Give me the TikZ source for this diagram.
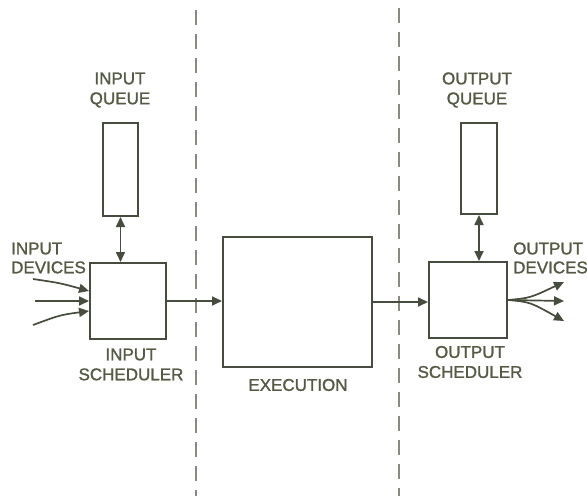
\documentclass[tikz,border=0pt]{standalone}
\usepackage{fontspec}
\setmainfont{Liberation Sans}
\newfontfamily\lettering[FakeBold=1.3]{Liberation Sans}
\usetikzlibrary{arrows.meta,calc}
\definecolor{ink}{HTML}{464C3E}
\definecolor{txt}{HTML}{545A44}
\definecolor{dashc}{HTML}{8A8A82}
\begin{document}
\begin{tikzpicture}[x=1pt,y=-1pt,
  blk/.style={draw=ink,line width=2pt,rectangle,inner sep=0pt,fill=white},
  lbl/.style={text=txt,font=\lettering\fontsize{17}{20}\selectfont,align=center,inner sep=0pt},
  lbll/.style={text=txt,font=\lettering\fontsize{17}{19}\selectfont,align=left,inner sep=0pt,anchor=west},
  arr/.style={draw=ink,line width=1.7pt,-{Triangle[length=10pt,width=9pt]}},
  darr/.style={draw=ink,line width=1.7pt,{Triangle[length=10pt,width=9pt]}-{Triangle[length=10pt,width=9pt]}},
  sep/.style={draw=dashc,line width=1.8pt,dash pattern=on 15pt off 9pt}]
\useasboundingbox (0,0) rectangle (587,496);
% separators
\draw[sep] (196,10) -- (196,496);
\draw[sep] (399,8) -- (399,496);
% blocks
\node[blk,minimum width=76pt,minimum height=76pt] (insched) at (128,301) {};
\node[blk,minimum width=35pt,minimum height=93pt] (inqueue) at (120.5,169.5) {};
\node[blk,minimum width=149pt,minimum height=130pt] (exec) at (297.5,302) {};
\node[blk,minimum width=78pt,minimum height=76pt] (outsched) at (468,300) {};
\node[blk,minimum width=36pt,minimum height=91pt] (outqueue) at (479,168.5) {};
% labels
\node[lbl] (inqlbl) at (120,90) {INPUT\\QUEUE};
\node[lbl] (outqlbl) at (477,90) {OUTPUT\\QUEUE};
\node[lbl] (inslbl) at (131,364.5) {INPUT\\SCHEDULER};
\node[lbl] (outslbl) at (470,362) {OUTPUT\\SCHEDULER};
\node[lbl] (execlbl) at (298,385) {EXECUTION};
\node[lbll] (indev) at (11,258) {INPUT\\DEVICES};
\node[lbll] (outdev) at (513,258) {OUTPUT\\DEVICES};
% connectors
\draw[darr] (inqueue.south) -- (inqueue.south |- insched.north);
\draw[darr] (outqueue.south) -- (outqueue.south |- outsched.north);
\draw[arr] (insched.east) -- (insched.east -| exec.west);
\draw[arr] (exec.east) -- (exec.east -| outsched.west);
% input devices
\coordinate (i1) at (33,279);
\coordinate (i2) at (35,301);
\coordinate (i3) at (33,325);
\draw[arr] (i1) .. controls (60,283) .. ([yshift=10pt]insched.west);
\draw[arr] (i2) -- (insched.west);
\draw[arr] (i3) .. controls (60,315) .. ([yshift=-10pt]insched.west);
% output devices
\coordinate (o1) at (564,282);
\coordinate (o2) at (564,301);
\coordinate (o3) at (564,321);
\draw[arr] (outsched.east) .. controls (530,298) .. (o1);
\draw[arr] (outsched.east) -- (o2);
\draw[arr] (outsched.east) .. controls (530,302) .. (o3);
\end{tikzpicture}
\end{document}
